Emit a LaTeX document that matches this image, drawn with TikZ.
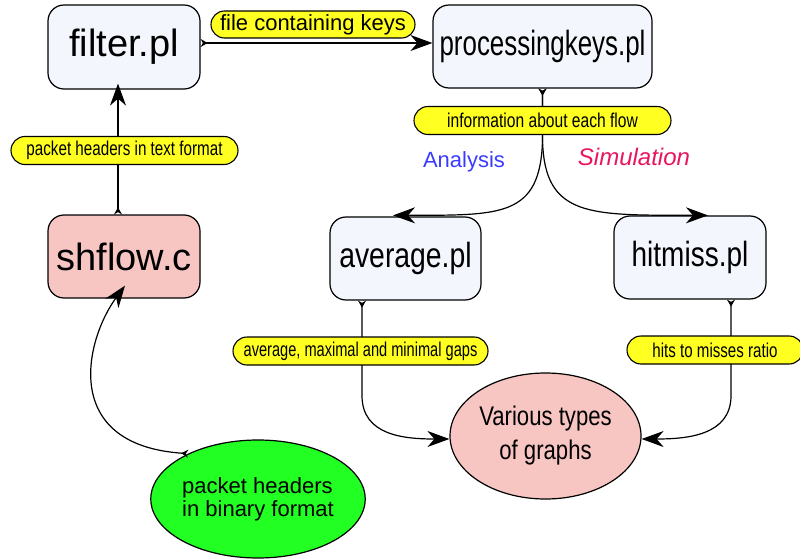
\documentclass[tikz,border=0pt]{standalone}
\usepackage{fontspec}
\setmainfont{Liberation Sans}
\usepackage{graphicx}
\usetikzlibrary{arrows.meta,shapes.geometric}
\definecolor{procfill}{HTML}{F3F6FD}
\definecolor{pinkfill}{HTML}{F7C6C3}
\definecolor{pillyellow}{HTML}{FFFF22}
\definecolor{greenfill}{HTML}{22FF22}
\definecolor{analysisblue}{HTML}{3B3BFF}
\definecolor{simred}{HTML}{E8155F}
\newcommand{\setfs}[1]{\fontsize{#1pt}{#1pt}\selectfont}
\newcommand{\nar}[2]{\scalebox{#1}[1]{#2}}
\begin{document}
\begin{tikzpicture}[x=1pt,y=-1pt,
  proc/.style={draw, line width=1.2pt, rounded corners=16pt, fill=procfill, inner sep=0pt},
  pinkproc/.style={proc, fill=pinkfill},
  pill/.style={draw, line width=1.1pt, fill=pillyellow, rounded corners=14pt, minimum height=28pt, inner sep=0pt},
  flowline/.style={line width=1.2pt, {Stealth[reversed,length=7pt,width=8pt]}-{Stealth[length=22pt,width=16pt,inset=7pt]}},
  blob/.style={ellipse, draw, line width=1.2pt, inner sep=0pt}]
\useasboundingbox (0,0) rectangle (800,559);

% process boxes
\node[proc, minimum width=152pt, minimum height=84pt] (filter) at (124,47) {\setfs{38}filter.pl};
\node[proc, minimum width=219pt, minimum height=83pt] (pk) at (542.5,46.5) {\setfs{35}\nar{0.74}{processingkeys.pl}};
\node[pinkproc, minimum width=152pt, minimum height=83pt] (shflow) at (124,256.5) {\setfs{38}shflow.c};
\node[proc, minimum width=151pt, minimum height=83pt] (avg) at (405.5,258.5) {\setfs{35}\nar{0.81}{average.pl}};
\node[proc, minimum width=152pt, minimum height=83pt] (hit) at (690,257.5) {\setfs{35}\nar{0.80}{hitmiss.pl}};

% ellipses
\node[blob, fill=pinkfill, minimum width=191pt, minimum height=126pt, align=center,
  font={\fontsize{27pt}{34pt}\selectfont}] (vari) at (545.5,436)
  {\nar{0.82}{Various types}\\\nar{0.82}{of graphs}};
\node[blob, fill=greenfill, minimum width=204pt, minimum height=118pt, align=left,
  font={\fontsize{22pt}{23pt}\selectfont}] (green) at (258,499)
  {packet headers\\in binary format};

% side texts
\node[text=analysisblue, anchor=base] (analysis) at (464,167) {\setfs{22}Analysis};
\node[text=simred, anchor=base] (simulation) at (634,165) {\setfs{24}\itshape Simulation};

% connectors
\draw[flowline] ([yshift=4pt]filter.east) -- ([yshift=3.5pt]pk.west);
\draw[flowline] ([xshift=-6pt]shflow.north) -- ([xshift=-6pt,yshift=6pt]filter.south);
\draw[flowline] (green.147) .. controls (60,445) and (85,340) .. ([xshift=1pt,yshift=13pt]shflow.south);
\coordinate (split) at (542.5,140);
\draw[flowline] (pk.south) -- (split) .. controls (540.5,218) and (500,215) .. ([xshift=-12.5pt,yshift=1pt]avg.north);
\draw[flowline] (pk.south) -- (split) .. controls (544.5,218) and (590,215) .. ([xshift=18pt]hit.north);
\draw[flowline] ([xshift=-43.5pt]avg.south) -- ++(0,95) .. controls +(0,40) and +(-45,0) .. ([yshift=-3pt]vari.west);
\draw[flowline] ([xshift=41pt]hit.south) -- ++(0,96) .. controls +(0,40) and +(45,0) .. ([yshift=-3pt]vari.east);

% labels
\node[pill, minimum width=204pt, minimum height=27pt, rounded corners=13.5pt] (lblkeys) at (313,24.5) {\setfs{22}file containing keys};
\node[pill, minimum width=227pt] (lblpkt) at (124.5,150.5) {\setfs{20}\nar{0.76}{packet headers in text format}};
\node[pill, minimum width=257pt] (lblinfo) at (542.5,120.5) {\setfs{20}\nar{0.78}{information about each flow}};
\node[pill, minimum width=255pt] (lblavg) at (360.5,351) {\setfs{20}\nar{0.73}{average, maximal and minimal gaps}};
\node[pill, minimum width=176pt] (lblhit) at (715,350) {\setfs{20}\nar{0.755}{hits to misses ratio}};
\end{tikzpicture}
\end{document}
